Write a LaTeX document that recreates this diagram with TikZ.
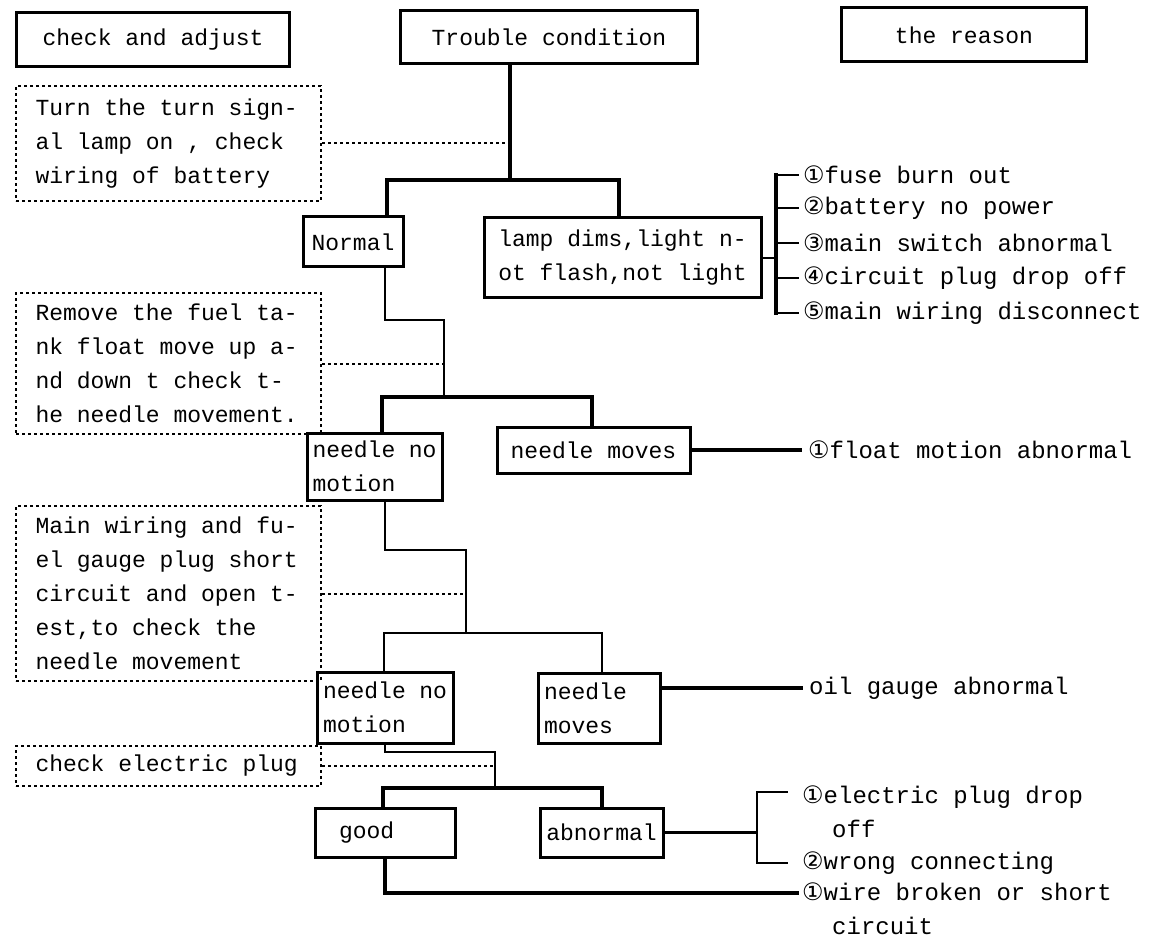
\documentclass[tikz,border=0pt]{standalone}
\usepackage{fontspec}
\setmainfont{Liberation Mono}
\newfontfamily\numfont{DejaVu Sans}
\newcommand\cnum[1]{{\numfont #1}}
\begin{document}
\begin{tikzpicture}[x=1pt,y=-1pt,
  every node/.style={font=\fontsize{23}{34}\selectfont, inner sep=0pt},
  solidbox/.style={draw, line width=3pt, align=flush left, inner xsep=6pt, inner ysep=3pt},
  notebox/.style={draw, line width=2pt, dash pattern=on 3pt off 3pt, align=flush left,
                  anchor=north west, inner xsep=19.5pt, inner ysep=2pt},
  wire/.style={line width=2.5pt, line cap=rect},
  trunkline/.style={line width=4pt, line cap=rect},
  dotline/.style={line width=2pt, dash pattern=on 3pt off 3pt},
  cause/.style={anchor=west, align=flush left, inner xsep=5pt,
                font=\fontsize{24}{34}\selectfont}]
\useasboundingbox (0,0) rectangle (1154,941);

% column headings
\node[solidbox, minimum width=273pt, minimum height=54pt] (chk) at (153,40) {check and adjust};
\node[solidbox, line width=3.5pt, minimum width=297pt, minimum height=53pt] (trouble) at (549,37) {Trouble condition};
\node[solidbox, minimum width=245pt, minimum height=54pt] (reason) at (964,35) {the reason};

% check-and-adjust notes (dotted)
\node[notebox, text width=266pt, minimum height=115pt] (note1) at (15,85)
  {Turn the turn sign-\\al lamp on , check\\wiring of battery};
\node[notebox, text width=266pt, minimum height=141pt] (note2) at (15,292)
  {Remove the fuel ta-\\nk float move up a-\\nd down t check t-\\he needle movement.};
\node[notebox, text width=266pt, minimum height=175pt] (note3) at (15,505)
  {Main wiring and fu-\\el gauge plug short\\circuit and open t-\\est,to check the\\needle movement};
\node[notebox, text width=266pt, minimum height=40pt] (note4) at (15,745)
  {check electric plug};

% trouble states
\node[solidbox, minimum width=100pt, minimum height=50pt] (normal) at (353,242) {Normal};
\node[solidbox, minimum width=277pt, minimum height=80pt] (lamp) at (622.5,258)
  {lamp dims,light n-\\ot flash,not light};
\node[solidbox, text width=124pt, inner xsep=5.5pt, minimum height=67pt] (nn1) at (374.5,466.5)
  {needle no\\motion};
\node[solidbox, minimum width=193pt, minimum height=46pt] (nm1) at (593.5,450) {needle moves};
\node[solidbox, text width=124pt, minimum height=71pt] (nn2) at (385,707.5)
  {needle no\\motion};
\node[solidbox, text width=110pt, minimum height=70pt] (nm2) at (599,708)
  {needle\\moves};
\node[solidbox, text width=92pt, inner xsep=24pt, minimum height=49pt] (good) at (385,832.5) {good};
\node[solidbox, minimum width=123pt, minimum height=49pt] (abn) at (601.5,832.5) {abnormal};

% causes
\node[cause] (r1) at (798,175) {\cnum{①}fuse burn out};
\node[cause] (r2) at (798,208) {\cnum{②}battery no power};
\node[cause] (r3) at (798,243) {\cnum{③}main switch abnormal};
\node[cause] (r4) at (798,278) {\cnum{④}circuit plug drop off};
\node[cause] (r5) at (798,313) {\cnum{⑤}main wiring disconnect};
\node[cause, inner xsep=8pt] (f1) at (800,450) {\cnum{①}float motion abnormal};
\node[cause, inner xsep=8pt] (oil) at (801,688) {oil gauge abnormal};
\node[cause, inner xsep=15pt] (e1) at (787,812) {\cnum{①}electric plug drop\\\hspace*{30pt}off};
\node[cause, inner xsep=15pt] (e2) at (787,863) {\cnum{②}wrong connecting};
\node[cause, inner xsep=5pt] (w1) at (797,909) {\cnum{①}wire broken or short\\\hspace*{30pt}circuit};

% junction points
\coordinate (t1) at (510,180);
\coordinate (b1l) at (387,180);
\coordinate (b1r) at (619,180);
\coordinate (k1) at (776,258);
\coordinate (n1) at (385,320);
\coordinate (n2) at (444,320);
\coordinate (b2l) at (382,397);
\coordinate (b2r) at (592,397);
\coordinate (n3) at (385,550);
\coordinate (n4) at (466,550);
\coordinate (b3l) at (384,633);
\coordinate (b3r) at (602,633);
\coordinate (n5) at (385,752);
\coordinate (n6) at (495,752);
\coordinate (b4l) at (383,788);
\coordinate (b4r) at (602,788);
\coordinate (k2) at (757,832.5);
\coordinate (k2t) at (757,792);
\coordinate (gw) at (385,893);

% first split
\draw[trunkline] (trouble.south -| t1) -- (t1);
\draw[trunkline] (b1l |- normal.north) -- (b1l) -- (b1r) -- (b1r |- lamp.north);
\draw[dotline] (note1.east) -- (note1.east -| t1);
\draw[wire] (lamp.east) -- (k1);
\draw[trunkline] (r1.west -| k1) -- (r5.west -| k1);
\foreach \r in {r1,r2,r3,r4,r5} \draw[wire] (\r.west -| k1) -- (\r.west);

% second split
\draw[wire] (normal.south -| n1) -- (n1) -- (n2) -- (n2 |- b2l);
\draw[trunkline] (b2l |- nn1.north) -- (b2l) -- (b2r) -- (b2r |- nm1.north);
\draw[dotline] (note2.east) -- (note2.east -| n2);
\draw[trunkline] (nm1.east) -- (f1.west);

% third split
\draw[wire] (nn1.south -| n3) -- (n3) -- (n4) -- (n4 |- b3l);
\draw[wire] (b3l |- nn2.north) -- (b3l) -- (b3r) -- (b3r |- nm2.north);
\draw[dotline] (note3.east) -- (note3.east -| n4);
\draw[trunkline] (oil.west -| nm2.east) -- (oil.west);

% fourth split
\draw[wire] (nn2.south -| n5) -- (n5) -- (n6) -- (n6 |- b4l);
\draw[trunkline] (b4l |- good.north) -- (b4l) -- (b4r) -- (b4r |- abn.north);
\draw[dotline] (note4.east) -- (note4.east -| n6);
\draw[wire] (abn.east) -- (k2);
\draw[wire] (k2t -| e1.west) -- (k2t) -- (e2.west -| k2) -- (e2.west);
\draw[trunkline] (good.south) -- (gw) -- (gw -| w1.west);
\end{tikzpicture}
\end{document}
